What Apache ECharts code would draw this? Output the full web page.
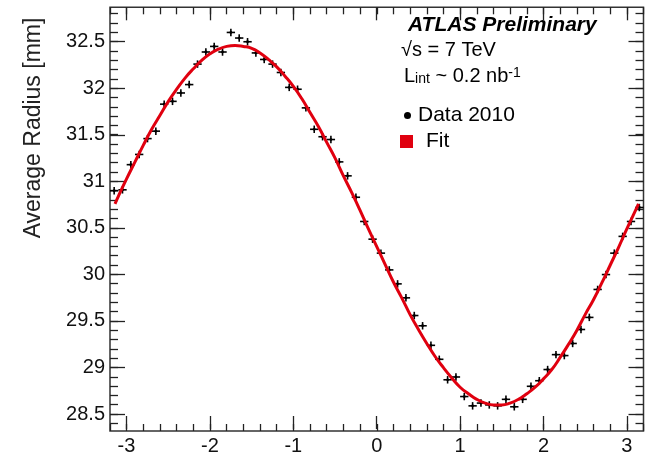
<!DOCTYPE html>
<html>
<head>
<meta charset="utf-8">
<script src="https://cdn.jsdelivr.net/npm/echarts@6/dist/echarts.min.js"></script>
<style>
  html, body { margin: 0; padding: 0; background: #fff; }
  #chart { width: 650px; height: 456px; }
</style>
</head>
<body>
<div id="chart"></div>
<script>
// bin centres (phi) and measured average radius per bin
const phiBins = [
  -3.15, -3.05, -2.95, -2.85, -2.75, -2.65, -2.55, -2.45, -2.35, -2.25,
  -2.15, -2.05, -1.95, -1.85, -1.75, -1.65, -1.55, -1.45, -1.35, -1.25,
  -1.15, -1.05, -0.95, -0.85, -0.75, -0.65, -0.55, -0.45, -0.35, -0.25,
  -0.15, -0.05, 0.05, 0.15, 0.25, 0.35, 0.45, 0.55, 0.65, 0.75,
  0.85, 0.95, 1.05, 1.15, 1.25, 1.35, 1.45, 1.55, 1.65, 1.75,
  1.85, 1.95, 2.05, 2.15, 2.25, 2.35, 2.45, 2.55, 2.65, 2.75,
  2.85, 2.95, 3.05, 3.15
];
const radius = [
  30.90, 30.91, 31.18, 31.29, 31.46, 31.54, 31.83, 31.86, 31.95, 32.04,
  32.26, 32.39, 32.45, 32.39, 32.60, 32.54, 32.50, 32.38, 32.31, 32.26,
  32.17, 32.01, 31.99, 31.79, 31.56, 31.48, 31.45, 31.21, 31.06, 30.83,
  30.57, 30.38, 30.23, 30.05, 29.90, 29.75, 29.56, 29.45, 29.24, 29.09,
  28.87, 28.90, 28.69, 28.59, 28.62, 28.60, 28.59, 28.66, 28.58, 28.66,
  28.80, 28.86, 28.98, 29.14, 29.13, 29.26, 29.41, 29.54, 29.84, 30.00,
  30.23, 30.41, 30.57, 30.72
];
const binHalfWidth = 0.05;
const radiusErr = 0.04;

// fit curve
const fitPhi = [
  -3.14, -3.1, -3.0, -2.9, -2.8, -2.7, -2.6, -2.5, -2.4, -2.3,
  -2.2, -2.1, -2.0, -1.9, -1.8, -1.7, -1.6, -1.5, -1.4, -1.3,
  -1.2, -1.1, -1.0, -0.9, -0.8, -0.7, -0.6, -0.5, -0.4, -0.3,
  -0.2, -0.1, 0.0, 0.1, 0.2, 0.3, 0.4, 0.5, 0.6, 0.7,
  0.8, 0.9, 1.0, 1.1, 1.2, 1.3, 1.4, 1.5, 1.6, 1.7,
  1.8, 1.9, 2.0, 2.1, 2.2, 2.3, 2.4, 2.5, 2.6, 2.7,
  2.8, 2.9, 3.0, 3.1, 3.14
];
const fitRadius = [
  30.76, 30.84, 31.03, 31.21, 31.39, 31.56, 31.71, 31.86, 31.99, 32.11,
  32.21, 32.30, 32.37, 32.42, 32.45, 32.46, 32.45, 32.43, 32.38, 32.31,
  32.23, 32.13, 32.02, 31.89, 31.74, 31.59, 31.42, 31.25, 31.06, 30.88,
  30.69, 30.49, 30.30, 30.11, 29.92, 29.75, 29.57, 29.41, 29.26, 29.12,
  29.00, 28.89, 28.79, 28.72, 28.66, 28.62, 28.60, 28.60, 28.62, 28.66,
  28.72, 28.79, 28.88, 28.98, 29.11, 29.25, 29.40, 29.57, 29.73, 29.91,
  30.10, 30.29, 30.49, 30.68, 30.76
];

const yMajorTicks = ['28.5', '29', '29.5', '30', '30.5', '31', '31.5', '32', '32.5'];

const chart = echarts.init(document.getElementById('chart'), null, { renderer: 'canvas' });

const font = 'Liberation Sans, Arial, sans-serif';
const tickStyle = { color: '#222', width: 1.3 };
const noLine = { show: false, onZero: false };

function hiddenAxis(grid, min, max) {
  return { type: 'value', gridIndex: grid, min: min, max: max, show: false, axisLine: noLine };
}

chart.setOption({
  animation: false,
  backgroundColor: '#fff',
  grid: [
    // frame + data
    { left: 110, right: 6.5, top: 7.3, bottom: 25, show: true, borderColor: '#333', borderWidth: 1.5 },
    // x major ticks (-3..3)
    { left: 126.5, right: 23.1, top: 7.3, bottom: 25 },
    // y minor ticks (28.4..32.8)
    { left: 110, right: 6.5, top: 13.7, bottom: 32.7 },
    // y major ticks (28.5..32.5)
    { left: 110, right: 6.5, top: 41.7, bottom: 42 }
  ],
  xAxis: [
    {
      type: 'value', gridIndex: 0, min: -3.2, max: 3.2, interval: 0.2, position: 'bottom',
      axisLine: noLine, splitLine: { show: false }, axisLabel: { show: false },
      axisTick: { inside: true, length: 7, lineStyle: tickStyle }
    },
    {
      type: 'value', gridIndex: 0, min: -3.2, max: 3.2, interval: 0.2, position: 'top',
      axisLine: noLine, splitLine: { show: false }, axisLabel: { show: false },
      axisTick: { inside: true, length: 7, lineStyle: tickStyle }
    },
    {
      type: 'value', gridIndex: 1, min: -3, max: 3, interval: 1, position: 'bottom',
      axisLine: noLine, splitLine: { show: false },
      axisTick: { inside: true, length: 13, lineStyle: tickStyle },
      axisLabel: { margin: 7, fontSize: 20, fontFamily: font, color: '#111' }
    },
    {
      type: 'value', gridIndex: 1, min: -3, max: 3, interval: 1, position: 'top',
      axisLine: noLine, splitLine: { show: false }, axisLabel: { show: false },
      axisTick: { inside: true, length: 13, lineStyle: tickStyle }
    },
    hiddenAxis(2, -3.2, 3.2),
    hiddenAxis(3, -3.2, 3.2)
  ],
  yAxis: [
    {
      type: 'value', gridIndex: 0, min: 28.32, max: 32.87,
      axisLine: noLine, axisTick: { show: false }, axisLabel: { show: false }, splitLine: { show: false }
    },
    hiddenAxis(1, 28.32, 32.87),
    {
      type: 'value', gridIndex: 2, min: 28.4, max: 32.8, interval: 0.1, position: 'left',
      axisLine: noLine, splitLine: { show: false }, axisLabel: { show: false },
      axisTick: { inside: true, length: 8, lineStyle: tickStyle }
    },
    {
      type: 'value', gridIndex: 2, min: 28.4, max: 32.8, interval: 0.1, position: 'right',
      axisLine: noLine, splitLine: { show: false }, axisLabel: { show: false },
      axisTick: { inside: true, length: 8, lineStyle: tickStyle }
    },
    {
      type: 'value', gridIndex: 3, min: 28.5, max: 32.5, interval: 0.5, position: 'left',
      axisLine: noLine, splitLine: { show: false },
      axisTick: { inside: true, length: 15, lineStyle: tickStyle },
      axisLabel: {
        margin: 5, fontSize: 20, fontFamily: font, color: '#111',
        formatter: (v) => yMajorTicks.find((t) => Math.abs(parseFloat(t) - v) < 1e-6) || ''
      }
    },
    {
      type: 'value', gridIndex: 3, min: 28.5, max: 32.5, interval: 0.5, position: 'right',
      axisLine: noLine, splitLine: { show: false }, axisLabel: { show: false },
      axisTick: { inside: true, length: 15, lineStyle: tickStyle }
    }
  ],
  legend: [
    {
      data: [{ name: 'Data 2010', icon: 'circle' }],
      left: 404, top: 105, itemWidth: 7, itemHeight: 7, padding: 0,
      textStyle: { fontSize: 21, fontFamily: font, color: '#000', padding: [0, 0, 0, 2] }
    },
    {
      data: [{ name: 'Fit', icon: 'rect' }],
      left: 400, top: 131, itemWidth: 13, itemHeight: 13, padding: 0,
      textStyle: { fontSize: 21, fontFamily: font, color: '#000', padding: [0, 0, 0, 8] }
    }
  ],
  graphic: [
    {
      type: 'text', left: 408, top: 15,
      style: { text: 'ATLAS Preliminary', font: 'italic bold 21px ' + font, fill: '#000' }
    },
    {
      type: 'text', left: 401, top: 40,
      style: { text: '\u221As = 7 TeV', font: '20px ' + font, fill: '#000' }
    },
    {
      type: 'text', left: 404, top: 64,
      style: {
        text: 'L{sub|int} ~ 0.2 nb{sup|-1}',
        font: '20px ' + font, fill: '#000',
        rich: {
          sub: { fontSize: 14, fontFamily: font, verticalAlign: 'bottom', lineHeight: 14, padding: [8, 0, 0, 0] },
          sup: { fontSize: 14, fontFamily: font, verticalAlign: 'top', lineHeight: 14, padding: [0, 0, 8, 0] }
        }
      }
    },
    {
      type: 'text', x: 34, y: 128, rotation: Math.PI / 2,
      style: { text: 'Average Radius [mm]', font: '23px ' + font, fill: '#222', align: 'center', verticalAlign: 'middle' }
    }
  ],
  series: [
    {
      name: 'Data 2010',
      type: 'custom',
      xAxisIndex: 0, yAxisIndex: 0,
      itemStyle: { color: '#000' },
      z: 3,
      data: phiBins.map((p, i) => [p, radius[i]]),
      renderItem: (params, api) => {
        const x = api.value(0);
        const y = api.value(1);
        const l = api.coord([x - binHalfWidth, y]);
        const r = api.coord([x + binHalfWidth, y]);
        const t = api.coord([x, y + radiusErr]);
        const b = api.coord([x, y - radiusErr]);
        const line = { stroke: '#000', lineWidth: 1.6 };
        return {
          type: 'group',
          children: [
            { type: 'line', shape: { x1: l[0], y1: l[1], x2: r[0], y2: r[1] }, style: line },
            { type: 'line', shape: { x1: t[0], y1: t[1], x2: b[0], y2: b[1] }, style: line },
            { type: 'circle', shape: { cx: l[0] / 2 + r[0] / 2, cy: l[1], r: 1.4 }, style: { fill: '#000' } }
          ]
        };
      }
    },
    {
      name: 'Fit',
      type: 'line',
      xAxisIndex: 0, yAxisIndex: 0,
      z: 4,
      smooth: true,
      showSymbol: false,
      color: '#e0000f',
      lineStyle: { color: '#e0000f', width: 3 },
      data: fitPhi.map((p, i) => [p, fitRadius[i]])
    }
  ]
});
</script>
</body>
</html>
